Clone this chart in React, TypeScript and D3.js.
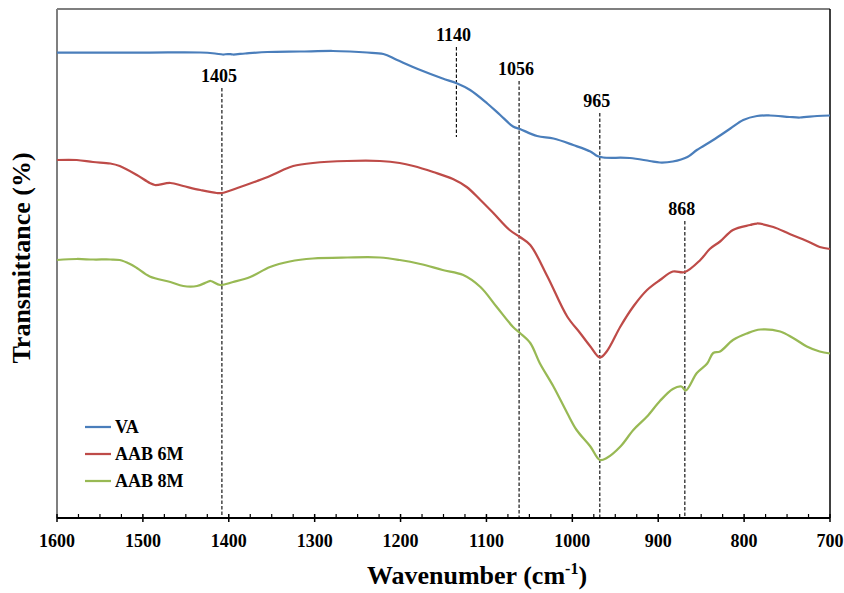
import React from 'react'
import * as d3 from 'd3'

// wavenumber (cm-1) / transmittance (arbitrary units, curves are offset)
const vaWave = [1600, 1550, 1492, 1433, 1416, 1407, 1401, 1395, 1381, 1355, 1317, 1279, 1259, 1239, 1220, 1204, 1177, 1151, 1134, 1119, 1099, 1084, 1069, 1061, 1041, 1022, 999, 979, 971, 964, 933, 910, 898, 883, 866, 855, 836, 816, 801, 785, 770, 747, 735, 715, 700]
const vaValue = [93.1, 93.1, 93.1, 93.1, 92.9, 92.7, 92.8, 92.7, 92.9, 93.2, 93.3, 93.4, 93.3, 93.1, 92.8, 91.6, 89.6, 87.9, 86.9, 85.6, 82.9, 80.6, 78.3, 77.8, 76.4, 75.9, 74.6, 73.3, 72.4, 72.1, 72.0, 71.4, 71.1, 71.3, 72.2, 73.6, 75.6, 77.9, 79.6, 80.4, 80.5, 80.2, 80.1, 80.4, 80.5]

const aab6Wave = [1600, 1577, 1558, 1538, 1527, 1507, 1492, 1486, 1468, 1453, 1433, 1414, 1408, 1390, 1367, 1352, 1337, 1325, 1302, 1262, 1224, 1201, 1185, 1162, 1139, 1123, 1107, 1092, 1073, 1061, 1049, 1029, 1006, 991, 979, 968, 960, 944, 929, 913, 898, 883, 869, 851, 840, 828, 813, 793, 785, 766, 747, 727, 712, 700]
const aab6Value = [71.6, 71.6, 71.2, 70.9, 70.4, 68.6, 67.0, 66.6, 67.0, 66.4, 65.6, 65.0, 65.0, 66.0, 67.4, 68.4, 69.6, 70.4, 71.0, 71.4, 71.4, 71.0, 70.4, 69.2, 67.8, 66.2, 63.6, 61.0, 57.6, 56.2, 54.6, 48.3, 40.3, 37.0, 34.3, 32.1, 33.3, 38.3, 42.3, 45.6, 47.6, 49.3, 49.2, 51.6, 53.8, 55.3, 57.6, 58.6, 58.9, 58.2, 56.8, 55.4, 54.2, 53.8]

const aab8Wave = [1600, 1577, 1558, 1538, 1527, 1515, 1507, 1492, 1468, 1453, 1437, 1425, 1421, 1410, 1395, 1375, 1352, 1329, 1302, 1262, 1224, 1201, 1177, 1151, 1127, 1107, 1088, 1069, 1061, 1049, 1038, 1022, 1006, 995, 979, 968, 960, 944, 929, 913, 898, 883, 873, 868, 855, 843, 836, 828, 813, 797, 781, 758, 743, 727, 712, 700]
const aab8Value = [51.6, 51.8, 51.7, 51.7, 51.6, 50.8, 50.0, 48.3, 47.2, 46.4, 46.4, 47.2, 47.4, 46.6, 47.2, 48.2, 50.2, 51.3, 51.9, 52.1, 52.1, 51.6, 50.8, 49.6, 48.6, 46.2, 42.2, 38.2, 37.0, 35.0, 31.0, 26.3, 21.0, 17.6, 14.3, 11.6, 12.0, 14.3, 17.6, 20.3, 23.4, 25.8, 26.3, 25.5, 29.0, 30.9, 33.0, 33.3, 35.6, 36.9, 37.7, 37.3, 36.0, 34.3, 33.3, 32.9]

const seriesNames = ['VA', 'AAB 6M', 'AAB 8M']
const seriesColors = ['#4a7ebb', '#be4b48', '#98b954']

// peak markers: where the dashed line sits, its label, and the top / bottom of the line
const peakWave = [1408, 1135, 1062, 968, 869]
const peakLabels = ['1405', '1140', '1056', '965', '868']
const peakTop = [86.0, 94.2, 87.4, 81.0, 59.4]
const peakBottom = [0, 76.2, 0, 0, 0]

const xTicks = [1600, 1500, 1400, 1300, 1200, 1100, 1000, 900, 800, 700]

const W = 844
const H = 593
const margin = { top: 9, right: 14, bottom: 75, left: 57 }
const FONT = '"Liberation Serif", "Times New Roman", Times, serif'

export default function App() {
  const x = d3.scaleLinear().domain([1600, 700]).range([margin.left, W - margin.right])
  const y = d3.scaleLinear().domain([0, 101.8]).range([H - margin.bottom, margin.top])
  const x0 = x.range()[0]
  const x1 = x.range()[1]
  const y0 = y.range()[0]
  const y1 = y.range()[1]

  const line = d3.line<[number, number]>()
    .x((d) => x(d[0]))
    .y((d) => y(d[1]))
    .curve(d3.curveCatmullRom.alpha(0.5))

  const series = [
    d3.zip(vaWave, vaValue),
    d3.zip(aab6Wave, aab6Value),
    d3.zip(aab8Wave, aab8Value),
  ] as [number, number][][]

  const minorTicks = d3.range(700, 1601, 25).filter((t) => t % 100 !== 0)

  return (
    <svg width={W} height={H} style={{ position: 'absolute', left: 0, top: 0, background: '#fff' }}>
      {/* frame */}
      <line x1={x0} x2={x1} y1={y1} y2={y1} stroke="#000" strokeWidth={1.2} />
      <line x1={x1} x2={x1} y1={y1} y2={y0} stroke="#000" strokeWidth={1.5} />
      <line x1={x0} x2={x0} y1={y1} y2={y0} stroke="#7f7f7f" strokeWidth={2} />

      {/* peak markers */}
      {peakWave.map((w, i) => (
        <g key={i}>
          <line x1={x(w)} x2={x(w)} y1={y(peakTop[i])} y2={y(peakBottom[i])}
            stroke="#000" strokeWidth={1.1} strokeDasharray="3.5,2" />
          <text x={x(w) - 3} y={y(peakTop[i]) - 6} textAnchor="middle"
            fontFamily={FONT} fontWeight="bold" fontSize={18}>{peakLabels[i]}</text>
        </g>
      ))}

      {/* spectra */}
      {series.map((s, i) => (
        <path key={i} d={line(s) || ''} fill="none" stroke={seriesColors[i]} strokeWidth={2.25} strokeLinejoin="round" />
      ))}

      {/* x axis */}
      <line x1={x0} x2={x1} y1={y0} y2={y0} stroke="#000" strokeWidth={2} />
      {xTicks.map((t) => (
        <g key={t}>
          <line x1={x(t)} x2={x(t)} y1={y0 - 4} y2={y0 + 4} stroke="#000" strokeWidth={1.5} />
          <text x={x(t)} y={y0 + 29} textAnchor="middle" fontFamily={FONT} fontWeight="bold" fontSize={18}>{t}</text>
        </g>
      ))}
      {minorTicks.map((t) => (
        <line key={t} x1={x(t)} x2={x(t)} y1={y0 - 4} y2={y0} stroke="#000" strokeWidth={1.2} />
      ))}

      {/* axis titles */}
      <text x={477} y={584} textAnchor="middle" fontFamily={FONT} fontWeight="bold" fontSize={26}>
        Wavenumber (cm<tspan dy={-10} fontSize={16}>-1</tspan><tspan dy={10}>)</tspan>
      </text>
      <text transform="translate(30,258) rotate(-90)" textAnchor="middle" fontFamily={FONT} fontWeight="bold" fontSize={26}>
        Transmittance (%)
      </text>

      {/* legend */}
      {seriesNames.map((n, i) => (
        <g key={n} transform={`translate(85,${427 + i * 27})`}>
          <line x1={0} x2={26} y1={0} y2={0} stroke={seriesColors[i]} strokeWidth={2.25} />
          <text x={30} y={6} fontFamily={FONT} fontWeight="bold" fontSize={18}>{n}</text>
        </g>
      ))}
    </svg>
  )
}
